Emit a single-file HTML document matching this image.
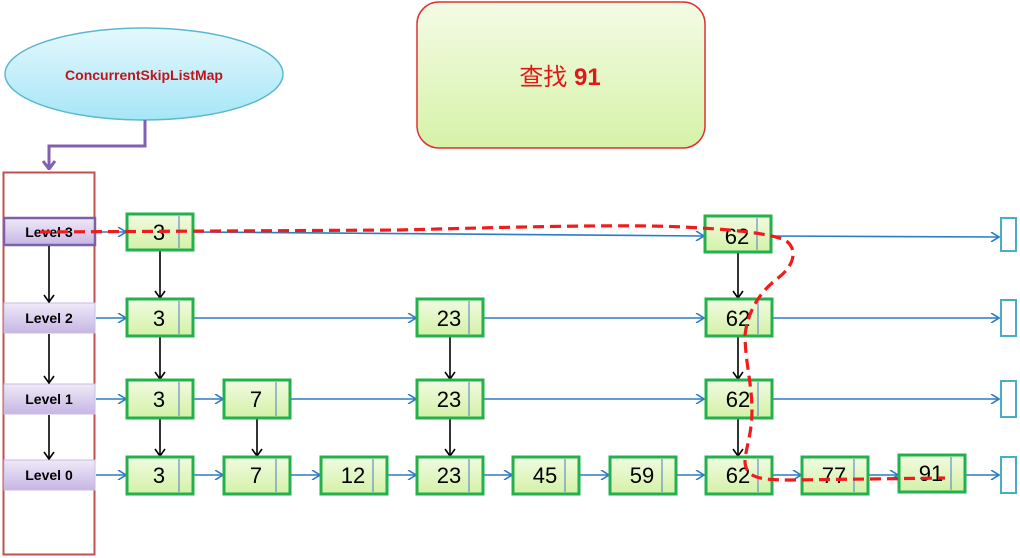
<!DOCTYPE html>
<html><head><meta charset="utf-8"><style>html,body{margin:0;padding:0;background:#fff}svg{display:block}</style></head>
<body>
<svg width="1020" height="558" viewBox="0 0 1020 558" xmlns="http://www.w3.org/2000/svg" font-family="Liberation Sans, sans-serif">
<defs>
<linearGradient id="cy" x1="0" y1="0" x2="0" y2="1"><stop offset="0" stop-color="#e4f8fd"/><stop offset="1" stop-color="#a6e6f7"/></linearGradient>
<linearGradient id="gr" x1="0" y1="0" x2="0" y2="1"><stop offset="0" stop-color="#f4fbe6"/><stop offset="1" stop-color="#d6f2a8"/></linearGradient>
<linearGradient id="gn" x1="0" y1="0" x2="0" y2="1"><stop offset="0" stop-color="#f2fbe2"/><stop offset="1" stop-color="#d3f1a6"/></linearGradient>
<linearGradient id="pu" x1="0" y1="0" x2="0" y2="1"><stop offset="0" stop-color="#efeaf8"/><stop offset="1" stop-color="#c6b6e4"/></linearGradient>
<marker id="ab" markerWidth="10" markerHeight="10" refX="9" refY="5" orient="auto" markerUnits="userSpaceOnUse"><path d="M1,0 L9,5 L1,10" fill="none" stroke="#2a7cc6" stroke-width="1.6"/></marker>
<marker id="ak" markerWidth="12" markerHeight="12" refX="6" refY="11" orient="0" markerUnits="userSpaceOnUse"><path d="M1,4 L6,11 L11,4" fill="none" stroke="#000" stroke-width="1.6"/></marker>
<marker id="ap" markerWidth="14" markerHeight="12" refX="7" refY="11" orient="0" markerUnits="userSpaceOnUse"><path d="M1,3 L7,11 L13,3" fill="none" stroke="#8060b0" stroke-width="3"/></marker>
</defs>

<ellipse cx="144" cy="74" rx="139" ry="46" fill="url(#cy)" stroke="#5bb8d0" stroke-width="1.5"/>
<text x="144" y="80" text-anchor="middle" font-size="14" font-weight="bold" fill="#c0141c">ConcurrentSkipListMap</text>
<path d="M145,120 V146 H49 V169" fill="none" stroke="#8060b0" stroke-width="3" marker-end="url(#ap)"/>

<rect x="417" y="2" width="288" height="146" rx="22" fill="url(#gr)" stroke="#e03030" stroke-width="1.5"/>
<text x="560" y="85" text-anchor="middle" font-size="24" fill="#e01818" font-family="Liberation Sans, Noto Sans CJK SC, sans-serif">查找 <tspan font-weight="bold">91</tspan></text>

<rect x="3.5" y="172.5" width="91" height="382" fill="none" stroke="#c0504d" stroke-width="2"/>

<g font-size="14" font-weight="bold" text-anchor="middle">
<rect x="4" y="218" width="91" height="27" fill="url(#pu)" stroke="#7d60a8" stroke-width="2.5"/>
<text x="49" y="237">Level 3</text>
<rect x="4" y="303" width="91" height="30" fill="url(#pu)" stroke="#c8bce0" stroke-width="1"/>
<text x="49" y="323">Level 2</text>
<rect x="4" y="384" width="91" height="30" fill="url(#pu)" stroke="#c8bce0" stroke-width="1"/>
<text x="49" y="404">Level 1</text>
<rect x="4" y="460" width="91" height="30" fill="url(#pu)" stroke="#c8bce0" stroke-width="1"/>
<text x="49" y="480">Level 0</text>
</g>

<g stroke="#000" stroke-width="1.6" marker-end="url(#ak)">
<line x1="49" y1="246" x2="49" y2="302"/>
<line x1="49" y1="334" x2="49" y2="383"/>
<line x1="49" y1="415" x2="49" y2="459"/>
<line x1="160" y1="251" x2="160" y2="298"/>
<line x1="738" y1="251" x2="738" y2="298"/>
<line x1="160" y1="336" x2="160" y2="379"/>
<line x1="450" y1="336" x2="450" y2="379"/>
<line x1="738" y1="336" x2="738" y2="379"/>
<line x1="160" y1="417" x2="160" y2="456"/>
<line x1="257" y1="417" x2="257" y2="456"/>
<line x1="450" y1="417" x2="450" y2="456"/>
<line x1="738" y1="417" x2="738" y2="456"/>
</g>

<g stroke="#2a7cc6" stroke-width="1.6" marker-end="url(#ab)">
<line x1="96" y1="232" x2="126" y2="232"/>
<line x1="193" y1="232" x2="704" y2="236"/>
<line x1="771" y1="236" x2="999" y2="237"/>
<line x1="96" y1="318" x2="126" y2="318"/>
<line x1="193" y1="318" x2="416" y2="318"/>
<line x1="483" y1="318" x2="704" y2="318"/>
<line x1="771" y1="318" x2="999" y2="318"/>
<line x1="96" y1="399" x2="126" y2="399"/>
<line x1="193" y1="399" x2="223" y2="399"/>
<line x1="290" y1="399" x2="416" y2="399"/>
<line x1="483" y1="399" x2="704" y2="399"/>
<line x1="771" y1="399" x2="999" y2="399"/>
<line x1="96" y1="475" x2="126" y2="475"/>
<line x1="193" y1="475" x2="223" y2="475"/>
<line x1="290" y1="475" x2="320" y2="475"/>
<line x1="387" y1="475" x2="416" y2="475"/>
<line x1="483" y1="475" x2="512" y2="475"/>
<line x1="579" y1="475" x2="609" y2="475"/>
<line x1="676" y1="475" x2="704" y2="475"/>
<line x1="771" y1="475" x2="801" y2="475"/>
<line x1="867" y1="475" x2="898" y2="475"/>
<line x1="966" y1="475" x2="999" y2="475"/>
</g>

<g fill="#fff" stroke="#4bacc6" stroke-width="2">
<rect x="1001" y="218" width="15" height="33"/>
<rect x="1001" y="300" width="15" height="36"/>
<rect x="1001" y="381" width="15" height="36"/>
<rect x="1001" y="457" width="15" height="36"/>
</g>

<g font-size="22" text-anchor="middle">
<g transform="translate(127,214)"><rect x="0" y="0" width="66" height="36" fill="url(#gn)" stroke="#22b14c" stroke-width="3"/><line x1="52" y1="2" x2="52" y2="34" stroke="#4a7cc0"/><text x="32" y="26">3</text></g>
<g transform="translate(705,216)"><rect x="0" y="0" width="66" height="36" fill="url(#gn)" stroke="#22b14c" stroke-width="3"/><line x1="52" y1="2" x2="52" y2="34" stroke="#4a7cc0"/><text x="32" y="28">62</text></g>

<g transform="translate(127,299)"><rect x="0" y="0" width="66" height="37" fill="url(#gn)" stroke="#22b14c" stroke-width="3"/><line x1="52" y1="2" x2="52" y2="35" stroke="#4a7cc0"/><text x="32" y="27">3</text></g>
<g transform="translate(417,299)"><rect x="0" y="0" width="66" height="37" fill="url(#gn)" stroke="#22b14c" stroke-width="3"/><line x1="52" y1="2" x2="52" y2="35" stroke="#4a7cc0"/><text x="32" y="27">23</text></g>
<g transform="translate(706,299)"><rect x="0" y="0" width="66" height="37" fill="url(#gn)" stroke="#22b14c" stroke-width="3"/><line x1="52" y1="2" x2="52" y2="35" stroke="#4a7cc0"/><text x="32" y="27">62</text></g>

<g transform="translate(127,380)"><rect x="0" y="0" width="66" height="38" fill="url(#gn)" stroke="#22b14c" stroke-width="3"/><line x1="52" y1="2" x2="52" y2="36" stroke="#4a7cc0"/><text x="32" y="27">3</text></g>
<g transform="translate(224,380)"><rect x="0" y="0" width="66" height="38" fill="url(#gn)" stroke="#22b14c" stroke-width="3"/><line x1="52" y1="2" x2="52" y2="36" stroke="#4a7cc0"/><text x="32" y="27">7</text></g>
<g transform="translate(417,380)"><rect x="0" y="0" width="66" height="38" fill="url(#gn)" stroke="#22b14c" stroke-width="3"/><line x1="52" y1="2" x2="52" y2="36" stroke="#4a7cc0"/><text x="32" y="27">23</text></g>
<g transform="translate(706,380)"><rect x="0" y="0" width="66" height="38" fill="url(#gn)" stroke="#22b14c" stroke-width="3"/><line x1="52" y1="2" x2="52" y2="36" stroke="#4a7cc0"/><text x="32" y="27">62</text></g>

<g transform="translate(127,457)"><rect x="0" y="0" width="66" height="37" fill="url(#gn)" stroke="#22b14c" stroke-width="3"/><line x1="52" y1="2" x2="52" y2="35" stroke="#4a7cc0"/><text x="32" y="26">3</text></g>
<g transform="translate(224,457)"><rect x="0" y="0" width="66" height="37" fill="url(#gn)" stroke="#22b14c" stroke-width="3"/><line x1="52" y1="2" x2="52" y2="35" stroke="#4a7cc0"/><text x="32" y="26">7</text></g>
<g transform="translate(321,457)"><rect x="0" y="0" width="66" height="37" fill="url(#gn)" stroke="#22b14c" stroke-width="3"/><line x1="52" y1="2" x2="52" y2="35" stroke="#4a7cc0"/><text x="32" y="26">12</text></g>
<g transform="translate(417,457)"><rect x="0" y="0" width="66" height="37" fill="url(#gn)" stroke="#22b14c" stroke-width="3"/><line x1="52" y1="2" x2="52" y2="35" stroke="#4a7cc0"/><text x="32" y="26">23</text></g>
<g transform="translate(513,457)"><rect x="0" y="0" width="66" height="37" fill="url(#gn)" stroke="#22b14c" stroke-width="3"/><line x1="52" y1="2" x2="52" y2="35" stroke="#4a7cc0"/><text x="32" y="26">45</text></g>
<g transform="translate(610,457)"><rect x="0" y="0" width="66" height="37" fill="url(#gn)" stroke="#22b14c" stroke-width="3"/><line x1="52" y1="2" x2="52" y2="35" stroke="#4a7cc0"/><text x="32" y="26">59</text></g>
<g transform="translate(706,457)"><rect x="0" y="0" width="66" height="37" fill="url(#gn)" stroke="#22b14c" stroke-width="3"/><line x1="52" y1="2" x2="52" y2="35" stroke="#4a7cc0"/><text x="32" y="26">62</text></g>
<g transform="translate(802,457)"><rect x="0" y="0" width="66" height="37" fill="url(#gn)" stroke="#22b14c" stroke-width="3"/><line x1="52" y1="2" x2="52" y2="35" stroke="#4a7cc0"/><text x="32" y="26">77</text></g>
<g transform="translate(899,455)"><rect x="0" y="0" width="66" height="37" fill="url(#gn)" stroke="#22b14c" stroke-width="3"/><line x1="52" y1="2" x2="52" y2="35" stroke="#4a7cc0"/><text x="32" y="26">91</text></g>
</g>

<path d="M40,232 L400,230 C550,226 650,224 700,228 C740,230 770,234 785,240 C800,250 792,268 778,278 C760,292 748,310 745,335 C745,360 752,385 752,410 C752,435 745,450 745,462 C746,478 760,480 790,480 L945,478" fill="none" stroke="#f01c1c" stroke-width="3.2" stroke-dasharray="11,6"/>
</svg>
</body></html>
